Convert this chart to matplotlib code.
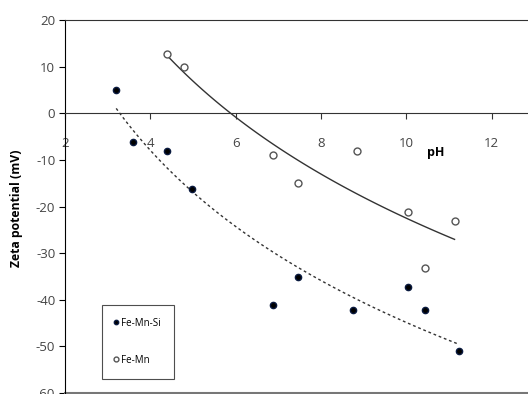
import numpy as np
import matplotlib.pyplot as plt

ph_femnsi = [3.2, 3.6, 4.4, 4.97, 6.87, 7.46, 8.74, 10.03, 10.43, 11.23]
zeta_femnsi = [5, -6.2, -8.1, -16.3, -41.1, -35.1, -42.2, -37.3, -42.2, -51]

ph_femn = [4.39, 4.79, 6.87, 7.46, 8.84, 10.03, 10.43, 11.13]
zeta_femn = [12.8, 10, -9, -15, -8.1, -21.2, -33.2, -23.1]

xticks = [2, 4, 6, 8, 10, 12]
yticks = [20, 10, 0, -10, -20, -30, -40, -50, -60]

plt.rcParams['font.family'] = ['Open Sans', 'DejaVu Sans']
plt.rcParams['axes.unicode_minus'] = False

fig = plt.figure(figsize=(5.28, 3.94), dpi=100)
# x=2 at 65px, x=14 at ~577px (right part is cropped off like the original)
ax = fig.add_axes([65 / 528, 1 / 394, 512 / 528, 373 / 394])

ax.set_xlim(2, 14)
ax.set_ylim(-60, 20)

# logarithmic trendlines, like the spreadsheet ones
def log_trend(x, y):
    a, b = np.polyfit(np.log(x), y, 1)
    xs = np.linspace(min(x), max(x), 100)
    return xs, a * np.log(xs) + b

xs, ys = log_trend(ph_femnsi, zeta_femnsi)
ax.plot(xs, ys, color='#333333', lw=1, ls=(0, (2, 2)))
xs, ys = log_trend(ph_femn, zeta_femn)
ax.plot(xs, ys, color='#333333', lw=1)

ax.plot(ph_femnsi, zeta_femnsi, 'o', ms=4.5, color='black', mec='#0a1a40',
        label='Fe-Mn-Si', clip_on=False)
ax.plot(ph_femn, zeta_femn, 'o', ms=5, mfc='white', mec='#555555', mew=1,
        label='Fe-Mn', clip_on=False)

ax.spines['bottom'].set_position(('data', 0))
ax.spines['right'].set_visible(False)
ax.spines['bottom'].set_color('#333333')
ax.spines['top'].set_color('#333333')
ax.spines['left'].set_color('black')
ax.axhline(-60, color='#777777', lw=1.5, clip_on=False)

ax.set_xticks(xticks)
ax.set_yticks(yticks)
ax.tick_params(axis='x', direction='out', length=4, pad=13, labelsize=9.5,
               labelcolor='#444444', color='#333333')
ax.tick_params(axis='y', direction='out', length=4, pad=3, labelsize=9.5,
               labelcolor='#444444')

ax.text(10.69, -8.4, 'pH', fontsize=9, fontweight='bold', ha='center',
        va='center')
fig.text(17 / 528, 1 - 208 / 394, 'Zeta potential (mV)', rotation=90,
         fontsize=8.8, fontweight='bold', ha='center', va='center')

leg = ax.legend(loc='upper left', bbox_to_anchor=(102 / 528, 1 - 305 / 394),
                bbox_transform=fig.transFigure, fontsize=7, frameon=True,
                fancybox=False, edgecolor='#222222', labelspacing=2.7,
                handlelength=0.35, handletextpad=0.35, borderpad=1.3,
                borderaxespad=0, markerscale=0.7)
leg.get_frame().set_linewidth(0.8)

fig.savefig('out.png', dpi=100)
